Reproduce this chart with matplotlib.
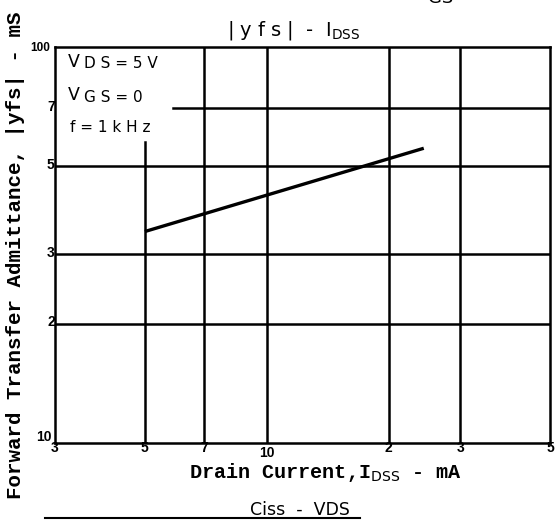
import matplotlib
matplotlib.use("Agg")
import matplotlib.pyplot as plt
from matplotlib.lines import Line2D

plt.rcParams['mathtext.fontset'] = 'custom'
plt.rcParams['mathtext.rm'] = 'Liberation Mono:bold'
plt.rcParams['mathtext.sf'] = 'DejaVu Sans'

# ---- data ----
x_ticks = [3, 5, 7, 10, 20, 30, 50]
x_tick_labels = ["3", "5", "7", "10", "2", "3", "5"]
y_ticks = [10, 20, 30, 50, 70, 100]
y_tick_labels = ["10", "2", "3", "5", "7", "100"]
curve_x = [5, 24.4]
curve_y = [34.2, 55.5]

fig = plt.figure(figsize=(5.59, 5.20), dpi=100)
ax = fig.add_axes([55/559, 77/520, 495/559, 396/520])
ax.set_xscale('log')
ax.set_yscale('log')
ax.set_xlim(3, 50)
ax.set_ylim(10, 100)

lw = 1.8
for s in ax.spines.values():
    s.set_linewidth(lw)
ax.set_xticks([])
ax.set_yticks([])
ax.minorticks_off()
ax.tick_params(which='both', length=0)

# grid lines (some partial, as in the reference)
ax.plot([5, 5], [10, 57.5], color='black', lw=lw)
for xv in [7, 10, 20, 30]:
    ax.plot([xv, xv], [10, 100], color='black', lw=lw)
ax.plot([5.87, 50], [70, 70], color='black', lw=lw)
for yv in [20, 30, 50]:
    ax.plot([3, 50], [yv, yv], color='black', lw=lw)

# curve
ax.plot(curve_x, curve_y, color='black', lw=2.4, solid_capstyle='butt')

# tick labels
tkw = dict(fontsize=10, fontweight='bold', family='Liberation Sans', color='black')
for xv, lab in zip(x_ticks, x_tick_labels):
    dy = -7.5 if lab == "10" else -3.5
    ax.annotate(lab, (xv, 10), xytext=(0, dy), textcoords='offset points',
                ha='center', va='center', **tkw)
for yv, lab in zip(y_ticks, y_tick_labels):
    if lab == "10":
        ax.annotate(lab, (3, yv), xytext=(-8, 4), textcoords='offset points',
                    ha='center', va='center', **tkw)
    elif lab == "100":
        ax.annotate(lab, (3, yv), xytext=(-11, -0.5), textcoords='offset points',
                    ha='center', va='center', fontsize=8.5, fontweight='bold',
                    family='Liberation Sans')
    else:
        ax.annotate(lab, (3, yv), xytext=(-3, 1), textcoords='offset points',
                    ha='center', va='center', **tkw)

# condition texts
ckw = dict(fontsize=12.5, family='DejaVu Sans', color='black', ha='left', va='center')
skw = dict(fontsize=11, family='DejaVu Sans', color='black', ha='left', va='center')
fig.text(68/559, 1 - 62/520, "V", **ckw)
fig.text(84/559, 1 - 64/520, "D S = 5 V", **skw)
fig.text(68/559, 1 - 95/520, "V", **ckw)
fig.text(84/559, 1 - 97/520, "G S = 0", **skw)
fig.text(70/559, 1 - 127/520, "f = 1 k H z", **skw)

# title
fig.text(294/559, 1 - 31/520, r"| y f s |  -  I$_{\mathsf{DSS}}$", fontsize=14,
         family='DejaVu Sans', ha='center', va='center')
fig.text(441/559, 1 + 2/520, "GS", fontsize=13, family='DejaVu Sans',
         ha='center', va='center')

# axis labels
fig.text(326/559, 1 - 472/520, r"Drain Current,I$_{\mathsf{DSS}}$ - mA",
         fontsize=14.5, family='Liberation Mono', fontweight='bold',
         ha='center', va='center')
fig.text(16/559, 1 - 255/520, "Forward Transfer Admittance, |yfs| - mS",
         fontsize=15, family='Liberation Mono', fontweight='bold',
         rotation=90, ha='center', va='center')

# bottom fragment of next chart
fig.text(300/559, 1 - 510/520, "Ciss  -  VDS", fontsize=12.5, family='DejaVu Sans',
         ha='center', va='center')
fig.add_artist(Line2D([45/559, 360/559], [1 - 518/520, 1 - 518/520],
                      color='black', lw=1.5, transform=fig.transFigure))

fig.savefig("out.png", dpi=100, facecolor='white')
